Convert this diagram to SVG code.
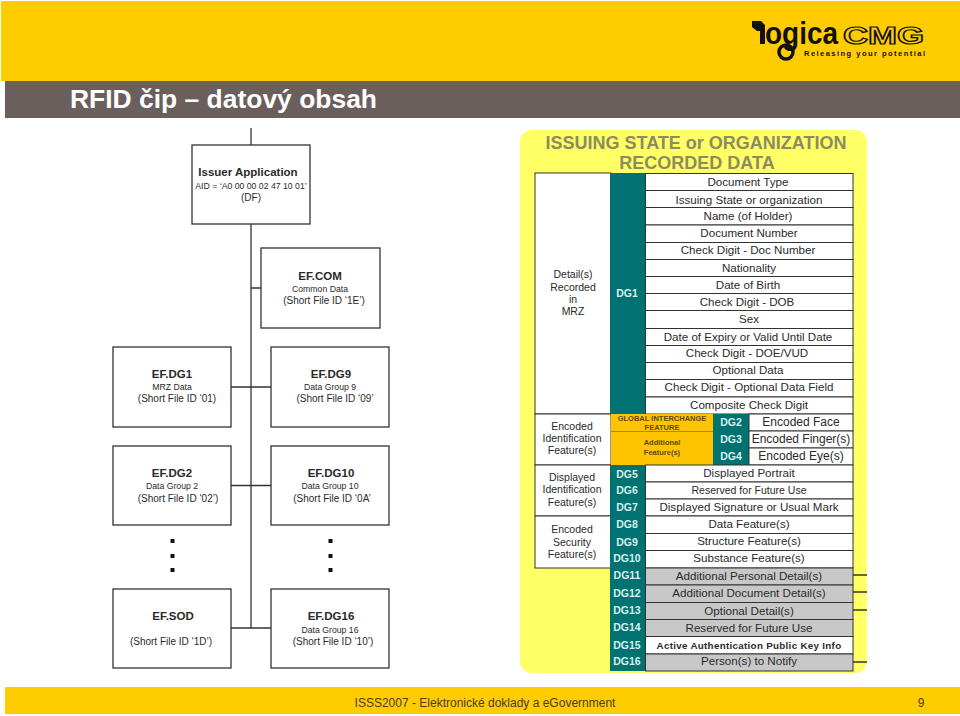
<svg xmlns="http://www.w3.org/2000/svg" width="960" height="716" viewBox="0 0 960 716">
<style>
text{font-family:"Liberation Sans",Arial,sans-serif;text-anchor:middle;fill:#2a2a2a}
.box{fill:#fff;stroke:#333;stroke-width:1.3}
.c{stroke:#333;stroke-width:1.3;fill:none}
.t{font-size:11.5px;font-weight:bold}
.s{font-size:8.700px}
.m{font-size:10px}
.r{fill:#fff;stroke:#333;stroke-width:1}
.g{fill:#c8c8c8;stroke:#333;stroke-width:1}
.o{fill:#ffc400}
.teal{fill:#007272}
.dg{font-size:10.500px;font-weight:bold;fill:#d8f0ee}
.rt{font-size:11.600px}
.bt{font-size:12px}
.l{font-size:10.500px}
.d{fill:#111}
.h{font-size:18px;font-weight:bold;fill:#8c8c60}
.ot{font-size:7.500px;font-weight:bold;fill:#5a4a00}
.f{font-size:12px;fill:#4d3d10}
</style>
<rect width="960" height="716" fill="#fff"/>
<g id="header">
<rect x="1" y="1" width="959" height="80" fill="#ffcc00"/>
<rect x="5" y="81" width="955" height="37" fill="#6b5f5d"/>
<text x="70" y="108" textLength="307" lengthAdjust="spacingAndGlyphs" style="font-size:26px;font-weight:bold;text-anchor:start;fill:#fff">RFID čip – datový obsah</text>
</g>
<g id="logo">
<path d="M752 21h9l4 4v19h-5V31h-3l-5-4z" fill="#111"/>
<circle cx="786" cy="52" r="7" fill="none" stroke="#111" stroke-width="3.500"/>
<text x="765" y="44" textLength="73" lengthAdjust="spacingAndGlyphs" style="font-size:31px;font-weight:bold;text-anchor:start;fill:#111">ogica</text>
<text x="843" y="44" textLength="81" lengthAdjust="spacingAndGlyphs" style="font-size:23px;font-weight:bold;text-anchor:start;fill:#ffcc00;stroke:#111;stroke-width:1.200">CMG</text>
<text x="804" y="56" textLength="121" style="font-size:7.500px;font-weight:bold;text-anchor:start;fill:#111">Releasing your potential</text>
</g>
<g id="connectors">
<path class="c" d="M251 128V628M251 288H261M231 387H271M231 485.500H271M231 628H271"/>
</g>
<g id="issuer"><rect class="box" x="192" y="145" width="118" height="79"/><text class="t" x="248" y="176">Issuer Application</text><text class="s" x="251" y="189">AID = ‘A0 00 00 02 47 10 01’</text><text class="m" x="251" y="201">(DF)</text></g>
<g id="ef-com"><rect class="box" x="261" y="248" width="119" height="80"/><text class="t" x="320" y="280">EF.COM</text><text class="s" x="320" y="292">Common Data</text><text class="m" x="324" y="304">(Short File ID ‘1E’)</text></g>
<g id="ef-dg1"><rect class="box" x="113" y="347" width="118" height="80"/><text class="t" x="172" y="378">EF.DG1</text><text class="s" x="172" y="390">MRZ Data</text><text class="m" x="177" y="402">(Short File ID ‘01)</text></g>
<g id="ef-dg9"><rect class="box" x="271" y="347" width="118" height="80"/><text class="t" x="331" y="378">EF.DG9</text><text class="s" x="330" y="390">Data Group 9</text><text class="m" x="335" y="402">(Short File ID ‘09’</text></g>
<g id="ef-dg2"><rect class="box" x="113" y="446" width="118" height="79"/><text class="t" x="172" y="477">EF.DG2</text><text class="s" x="172" y="489">Data Group 2</text><text class="m" x="178" y="502">(Short File ID ‘02’)</text></g>
<g id="ef-dg10"><rect class="box" x="271" y="446" width="118" height="79"/><text class="t" x="331" y="477">EF.DG10</text><text class="s" x="330" y="489">Data Group 10</text><text class="m" x="332" y="502">(Short File ID ‘0A’</text></g>
<g id="ef-sod"><rect class="box" x="113" y="589" width="118" height="79"/><text class="t" x="173" y="620">EF.SOD</text><text class="m" x="171" y="645">(Short File ID ‘1D’)</text></g>
<g id="ef-dg16"><rect class="box" x="271" y="589" width="118" height="79"/><text class="t" x="331" y="620">EF.DG16</text><text class="s" x="330" y="633">Data Group 16</text><text class="m" x="333" y="645">(Short File ID ‘10’)</text></g>
<g id="dots" class="d">
<rect x="170.500" y="539" width="4" height="4"/><rect x="170.500" y="554" width="4" height="4"/><rect x="170.500" y="568" width="4" height="4"/>
<rect x="328.500" y="539" width="4" height="4"/><rect x="328.500" y="554" width="4" height="4"/><rect x="328.500" y="568" width="4" height="4"/>
</g>
<g id="table">
<rect x="520" y="130" width="347" height="543" rx="12" fill="#ffff66"/>
<text class="h" x="696" y="149">ISSUING STATE or ORGANIZATION</text>
<text class="h" x="697" y="169">RECORDED DATA</text>
<path d="M853 575H867M853 592H867M853 610H867M853 662H867" class="c"/>
<rect class="r" x="535" y="173" width="76" height="241"/>
<rect class="r" x="535" y="414" width="76" height="51"/>
<rect class="r" x="535" y="465" width="76" height="51"/>
<rect class="r" x="535" y="516" width="76" height="52"/>
<text class="l" x="573" y="278">Detail(s)</text><text class="l" x="573" y="291">Recorded</text><text class="l" x="573" y="303">in</text><text class="l" x="573" y="315">MRZ</text>
<text class="l" x="572" y="430">Encoded</text><text class="l" x="572" y="442">Identification</text><text class="l" x="572" y="454">Feature(s)</text>
<text class="l" x="572" y="481">Displayed</text><text class="l" x="572" y="493">Identification</text><text class="l" x="572" y="506">Feature(s)</text>
<text class="l" x="572" y="533">Encoded</text><text class="l" x="572" y="546">Security</text><text class="l" x="572" y="558">Feature(s)</text>
<rect class="teal" x="610" y="173" width="36" height="241"/>
<text class="dg" x="627" y="297">DG1</text>
<g id="dg1-rows">
<rect class="r" x="645.500" y="173.500" width="207.500" height="17"/><text class="rt" x="748" y="186">Document Type</text>
<rect class="r" x="645.500" y="190.500" width="207.500" height="17"/><text class="rt" x="749" y="204">Issuing State or organization</text>
<rect class="r" x="645.500" y="207.500" width="207.500" height="17.500"/><text class="rt" x="748" y="220">Name (of Holder)</text>
<rect class="r" x="645.500" y="225" width="207.500" height="17.500"/><text class="rt" x="749" y="237">Document Number</text>
<rect class="r" x="645.500" y="242.500" width="207.500" height="17"/><text class="rt" x="748" y="254">Check Digit - Doc Number</text>
<rect class="r" x="645.500" y="259.500" width="207.500" height="17"/><text class="rt" x="749" y="272">Nationality</text>
<rect class="r" x="645.500" y="276.500" width="207.500" height="17"/><text class="rt" x="748" y="289">Date of Birth</text>
<rect class="r" x="645.500" y="293.500" width="207.500" height="17"/><text class="rt" x="747" y="306">Check Digit - DOB</text>
<rect class="r" x="645.500" y="310.500" width="207.500" height="18"/><text class="rt" x="749" y="323">Sex</text>
<rect class="r" x="645.500" y="328.500" width="207.500" height="17"/><text class="rt" x="748" y="341">Date of Expiry or Valid Until Date</text>
<rect class="r" x="645.500" y="345.500" width="207.500" height="17"/><text class="rt" x="747" y="357">Check Digit - DOE/VUD</text>
<rect class="r" x="645.500" y="362.500" width="207.500" height="17"/><text class="rt" x="748" y="374">Optional Data</text>
<rect class="r" x="645.500" y="379.500" width="207.500" height="17.500"/><text class="rt" x="749" y="391">Check Digit - Optional Data Field</text>
<rect class="r" x="645.500" y="397" width="207.500" height="17"/><text class="rt" x="749" y="409">Composite Check Digit</text>
</g>
<g id="biometric">
<rect class="o" x="611" y="414" width="102" height="51"/>
<path d="M611 431.500H713" stroke="#a88a10" stroke-width="1" fill="none"/>
<text class="ot" x="662" y="421">GLOBAL INTERCHANGE</text>
<text class="ot" x="662" y="430">FEATURE</text>
<text class="ot" x="662" y="445">Additional</text>
<text class="ot" x="662" y="455">Feature(s)</text>
<rect class="teal" x="713" y="414" width="36" height="51"/>
<text class="dg" x="731" y="426">DG2</text><text class="dg" x="731" y="443">DG3</text><text class="dg" x="731" y="460">DG4</text>
<rect class="r" x="749" y="414" width="104" height="17"/><text class="bt" x="801" y="426">Encoded Face</text>
<rect class="r" x="749" y="431" width="104" height="17"/><text class="bt" x="801" y="443">Encoded Finger(s)</text>
<rect class="r" x="749" y="448" width="104" height="17"/><text class="bt" x="801" y="460">Encoded Eye(s)</text>
</g>
<g id="lower-rows">
<rect class="teal" x="610" y="465" width="36" height="206"/>
<text class="dg" x="627" y="478">DG5</text><text class="dg" x="627" y="494">DG6</text><text class="dg" x="627" y="511">DG7</text><text class="dg" x="627" y="528">DG8</text><text class="dg" x="627" y="546">DG9</text>
<text class="dg" x="627" y="562">DG10</text><text class="dg" x="627" y="579">DG11</text><text class="dg" x="627" y="597">DG12</text><text class="dg" x="627" y="614">DG13</text><text class="dg" x="627" y="631">DG14</text><text class="dg" x="627" y="649">DG15</text><text class="dg" x="627" y="665">DG16</text>
<rect class="r" x="645.500" y="465" width="207.500" height="17"/><text class="rt" x="749" y="477">Displayed Portrait</text>
<rect class="r" x="645.500" y="482" width="207.500" height="17"/><text style="font-size:10.500px" x="749" y="494">Reserved for Future Use</text>
<rect class="r" x="645.500" y="499" width="207.500" height="17"/><text class="rt" x="749" y="511">Displayed Signature or Usual Mark</text>
<rect class="r" x="645.500" y="516" width="207.500" height="17.500"/><text class="rt" x="749" y="528">Data Feature(s)</text>
<rect class="r" x="645.500" y="533.500" width="207.500" height="17"/><text class="rt" x="749" y="545">Structure Feature(s)</text>
<rect class="r" x="645.500" y="550.500" width="207.500" height="17.500"/><text class="rt" x="749" y="562">Substance Feature(s)</text>
<rect class="g" x="645.500" y="568" width="207.500" height="17"/><text class="rt" x="749" y="580">Additional Personal Detail(s)</text>
<rect class="g" x="645.500" y="585" width="207.500" height="17.500"/><text class="rt" x="749" y="597">Additional Document Detail(s)</text>
<rect class="g" x="645.500" y="602.500" width="207.500" height="17"/><text class="rt" x="749" y="615">Optional Detail(s)</text>
<rect class="g" x="645.500" y="619.500" width="207.500" height="17"/><text class="rt" x="749" y="632">Reserved for Future Use</text>
<rect class="r" x="645.500" y="636.500" width="207.500" height="17.500"/><text x="749" y="649" style="font-size:9.800px;font-weight:bold;letter-spacing:.3px">Active Authentication Public Key Info</text>
<rect class="g" x="645.500" y="654" width="207.500" height="17"/><text class="rt" x="749" y="665">Person(s) to Notify</text>
</g>
</g>
<g id="footer">
<rect x="5" y="687" width="955" height="27" fill="#ffcc00"/>
<text class="f" x="485" y="707">ISSS2007 - Elektronické doklady a eGovernment</text>
<text class="f" x="921" y="707">9</text>
</g>
</svg>
